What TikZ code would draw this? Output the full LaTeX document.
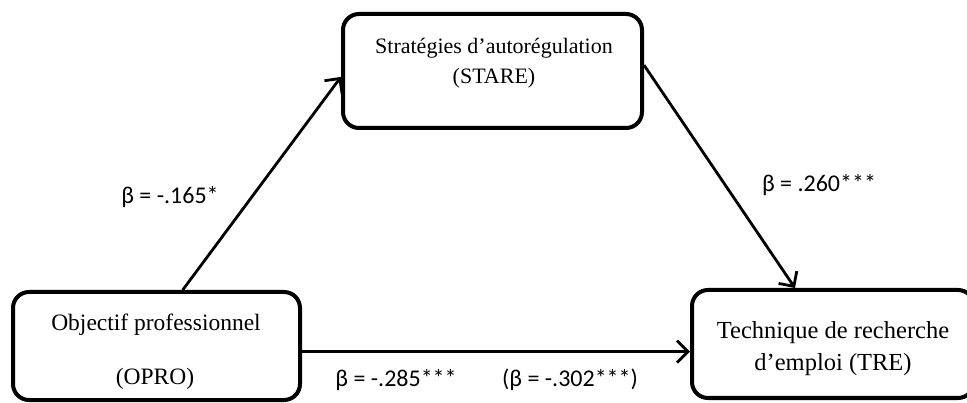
\documentclass[tikz,border=0pt]{standalone}
\usepackage{fontspec}
\setmainfont{Liberation Serif}
\newfontfamily\coeffont{Carlito}
\usetikzlibrary{arrows.meta,calc}
\begin{document}
\begin{tikzpicture}[x=1pt,y=-1pt,
  box/.style={draw,line width=4pt,rounded corners=16pt,inner sep=0pt},
  lbl/.style={font=\fontsize{22}{26}\selectfont,inner sep=0pt},
  lblmid/.style={font=\fontsize{23.5}{28}\selectfont,inner sep=0pt},
  lblbig/.style={font=\fontsize{24.5}{28}\selectfont,inner sep=0pt},
  coef/.style={font=\coeffont\fontsize{24}{28}\selectfont,inner sep=0pt},
  arr/.style={line width=2.8pt,-{Straight Barb[length=11pt,width=22pt]}}]
\useasboundingbox (0,0) rectangle (967,403);
\node[box,minimum width=287pt,minimum height=108pt] (opro) at (156.5,346) {};
\node[box,minimum width=299pt,minimum height=114pt] (stare) at (492.5,71) {};
\node[box,minimum width=282pt,minimum height=108pt] (tre) at (833,344) {};
\node[lbl] (t1) at (494,48) {Stratégies d’autorégulation};
\node[lbl] (t2) at (494,78) {(STARE)};
\node[lblmid] (t3) at (156,325) {Objectif professionnel};
\node[lblmid] (t4) at (155,379) {(OPRO)};
\node[lblbig] (t5) at (833,333) {Technique de recherche};
\node[lblbig] (t6) at (833,365) {d’emploi (TRE)};
\node[coef] (c1) at (170,197) {β = -.165*};
\node[coef] (c2) at (819,185) {β = .260***};
\node[coef] (c3) at (396,380) {β = -.285***};
\node[coef] (c4) at (570,380) {(β = -.302***)};
\coordinate (a1) at ($(opro.north west)!0.59!(opro.north east)$);
\coordinate (a2) at ($(stare.north west)!0.55!(stare.south west)$);
\coordinate (b1) at ($(stare.north east)!0.45!(stare.south east)$);
\coordinate (b2) at ($(tre.north west)!0.367!(tre.north east)$);
\coordinate (h1) at ($(opro.north east)!0.55!(opro.south east)$);
\draw[arr] (a1) -- (a2);
\draw[arr] (b1) -- (b2);
\draw[arr] (h1) -- (tre.west |- h1);
\end{tikzpicture}
\end{document}
